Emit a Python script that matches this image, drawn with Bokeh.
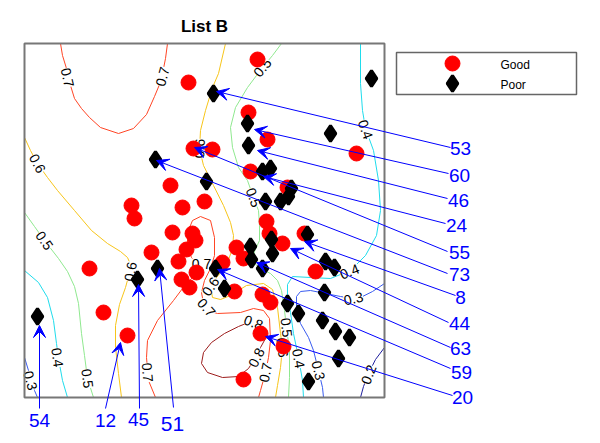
import math
from bokeh.plotting import figure
from bokeh.models import Range1d, ColumnDataSource, Arrow, VeeHead
from bokeh.embed import file_html
from bokeh.resources import INLINE
from bokeh.core.properties import value

FONT = "Liberation Sans"

# ---------------- data (plot coordinates, x to the right, y downward) ----------------
categories = ["Good", "Poor"]

good_x = [257, 188, 248, 267, 193, 212, 356, 250, 287, 204, 170, 131, 134, 182, 172, 192, 195, 186, 151, 178,
          181, 189, 196, 222, 234, 89, 103, 127, 266, 269, 282, 304, 236, 243, 315, 262, 270, 260, 283, 243]
good_y = [59, 82, 112, 139, 148, 149, 153, 171, 187, 201, 185, 205, 218, 207, 232, 233, 240, 249, 252, 261,
          279, 287, 272, 262, 291, 268, 312, 335, 221, 233, 243, 233, 247, 258, 271, 294, 302, 333, 346, 379]

poor_x = [213, 371, 247, 248, 330, 155, 206, 262, 270, 291, 288, 280, 265, 307, 250, 251, 271, 272, 262, 215,
          224, 157, 137, 37, 325, 334, 324, 287, 298, 322, 335, 349, 338, 308]
poor_y = [93, 78, 123, 145, 133, 159, 181, 171, 168, 188, 196, 201, 201, 234, 246, 259, 239, 253, 268, 268,
          288, 268, 279, 316, 261, 267, 292, 303, 313, 320, 331, 337, 358, 381]

# labelled observations: id, the point it refers to
callout_ids = ["53", "60", "46", "24", "55", "73", "8", "44", "63", "59", "20", "54", "12", "45", "51"]
target_x = [216, 254, 257, 263, 194, 156, 304, 290, 256, 217, 265, 39, 120, 138, 159]
target_y = [91, 129, 150, 176, 147, 160, 241, 248, 262, 269, 336, 325, 342, 284, 268]

# contour lines of the smoothed probability surface
contour_07_top = [(60, 43), (62, 55), (66, 68), (70, 85), (74, 98), (81, 108), (89, 117), (100, 127), (118, 133),
                  (133, 128), (146, 114), (154, 96), (159, 84), (162, 73), (165, 58), (167, 43)]
contour_06_left = [(24, 137), (30, 150), (37, 163), (47, 177), (57, 190), (74, 210), (91, 230), (107, 243),
                   (120, 251), (127, 257), (130, 264), (128, 276), (125, 287), (119, 304), (115, 325), (115, 347),
                   (118, 373), (121, 397)]
contour_05_left = [(24, 212), (34, 226), (44, 240), (58, 258), (67, 271), (74, 286), (78, 303), (81, 333),
                   (84, 355), (87, 378), (93, 397)]
contour_04_left = [(24, 270), (38, 282), (47, 297), (53, 320), (56, 343), (58, 358), (62, 380), (67, 397)]
contour_03_left = [(24, 357), (28, 370), (31, 381), (34, 390), (37, 397)]
contour_07_mid = [(155, 397), (148, 380), (146, 357), (147, 340), (157, 320), (173, 300), (182, 288), (192, 277),
                  (199, 266), (191, 257), (187, 247), (187, 232), (192, 220), (200, 216), (210, 220), (214, 237),
                  (214, 255), (210, 268), (204, 280), (201, 292), (203, 303), (210, 311), (217, 313), (240, 312),
                  (253, 308), (263, 310), (269, 318), (270, 340), (268, 357), (265, 372), (260, 390), (258, 397)]
contour_08_mid = [(265, 338), (263, 330), (256, 323), (248, 322), (238, 326), (224, 333), (211, 342), (203, 352),
                  (201, 363), (207, 372), (222, 377), (238, 376), (248, 368), (255, 357), (260, 347), (265, 338)]
contour_06_mid = [(225, 43), (218, 73), (212, 87), (205, 110), (200, 130), (199, 148), (203, 165), (213, 185),
                  (223, 205), (230, 222), (233, 235), (232, 248), (226, 265), (216, 277), (210, 286), (212, 297),
                  (220, 299), (230, 295), (246, 285), (263, 283), (272, 289), (277, 307), (280, 333), (282, 347),
                  (280, 367), (277, 385), (275, 397)]
contour_05_mid = [(281, 43), (272, 55), (262, 67), (247, 87), (235, 107), (230, 127), (232, 147), (238, 167),
                  (247, 180), (253, 197), (258, 210), (259, 225), (259, 240), (254, 251), (252, 260), (258, 267),
                  (270, 273), (277, 280), (281, 290), (284, 310), (286, 327), (289, 350), (289, 377), (288, 397)]
contour_04_right = [(360, 43), (360, 83), (362, 110), (365, 128), (373, 150), (378, 180), (380, 210), (376, 235),
                    (365, 255), (350, 270), (330, 278), (310, 277), (292, 276), (287, 284), (287, 295), (290, 312),
                    (293, 333), (298, 357), (302, 380), (303, 397)]
contour_03_right = [(384, 283), (372, 291), (362, 296), (353, 298), (340, 296), (325, 293), (310, 290), (300, 291),
                    (296, 296), (296, 310), (300, 323), (308, 337), (313, 350), (318, 370), (322, 387), (323, 397)]
contour_02_right = [(384, 347), (375, 359), (368, 373), (363, 386), (360, 397)]

contours = [
    (0.7, contour_07_top), (0.6, contour_06_left), (0.5, contour_05_left), (0.4, contour_04_left),
    (0.3, contour_03_left), (0.7, contour_07_mid), (0.8, contour_08_mid), (0.6, contour_06_mid),
    (0.5, contour_05_mid), (0.4, contour_04_right), (0.3, contour_03_right), (0.2, contour_02_right),
]

contour_label_level = [0.7, 0.7, 0.6, 0.6, 0.5, 0.5, 0.4, 0.3, 0.7, 0.6, 0.5, 0.5, 0.4,
                       0.7, 0.6, 0.7, 0.4, 0.3, 0.8, 0.8, 0.5, 0.6, 0.4, 0.3, 0.7, 0.2]
contour_label_x = [67, 162, 37, 130, 44, 87, 57, 30, 147, 199, 262, 253, 365,
                   201, 210, 206, 349, 353, 253, 256, 286, 282, 298, 318, 265, 368]
contour_label_y = [77, 76, 163, 271, 240, 378, 357, 380, 372, 148, 67, 197, 129,
                   263, 286, 307, 271, 298, 322, 357, 327, 347, 358, 370, 372, 374]
angle_override = {13: 0.0, 18: -20.0}   # label index -> degrees

# ---------------- styles ----------------
level_colors = {0.2: "#1f1f9e", 0.3: "#3a5cf0", 0.4: "#1fdcec", 0.5: "#8fe88f",
                0.6: "#f7c51a", 0.7: "#ff4525", 0.8: "#9c1c1c"}
BOX = dict(left=24, right=384, top=43, bottom=397)

# label layout (text centres) and where each leader line leaves its label
callout_text_x = [460, 459, 458, 456, 459, 459, 460, 459, 460, 461, 462, 39, 105, 138, 172]
callout_text_y = [148, 175, 200, 225, 252, 274, 297, 323, 348, 372, 397, 420, 420, 419, 423]
callout_from_x = [450, 448, 447, 445, 447, 447, 455, 448, 450, 450, 452, 39, 105, 139, 173]
callout_from_y = [147, 173, 198, 223, 251, 273, 295, 322, 347, 368, 395, 408, 408, 408, 407]
callout_size = ["19px"] * 14 + ["21px"]


def label_angle(i):
    if i in angle_override:
        return math.radians(angle_override[i])
    lx, ly, lv = contour_label_x[i], contour_label_y[i], contour_label_level[i]
    best = None
    for lvl, pts in contours:
        if lvl != lv:
            continue
        for (x1, y1), (x2, y2) in zip(pts[:-1], pts[1:]):
            dx, dy = x2 - x1, y2 - y1
            L2 = dx * dx + dy * dy
            t = max(0.0, min(1.0, ((lx - x1) * dx + (ly - y1) * dy) / L2)) if L2 else 0.0
            d = math.hypot(lx - (x1 + t * dx), ly - (y1 + t * dy))
            if best is None or d < best[0]:
                best = (d, dx, dy)
    _, dx, dy = best
    a = math.atan2(-dy, dx)
    if a > math.pi / 2:
        a -= math.pi
    elif a <= -math.pi / 2:
        a += math.pi
    return a


p = figure(width=592, height=435, x_range=Range1d(0, 592), y_range=Range1d(435, 0),
           output_backend="svg", toolbar_location=None, x_axis_location=None, y_axis_location=None,
           min_border=0)
p.grid.visible = False
p.outline_line_color = None
p.background_fill_color = "white"
p.border_fill_color = "white"

# contours
p.multi_line(xs=[[pt[0] for pt in c] for _, c in contours],
             ys=[[pt[1] for pt in c] for _, c in contours],
             line_color=[level_colors[l] for l, _ in contours], line_width=1)

p.text(x=contour_label_x, y=contour_label_y,
       text=[f"{v:.1f}" for v in contour_label_level],
       angle=[label_angle(i) for i in range(len(contour_label_x))], angle_units="rad",
       text_font=value(FONT), text_font_size="14px", text_color="black",
       text_align="center", text_baseline="middle",
       background_fill_color="white")

# plot box
p.quad(left=[BOX["left"]], right=[BOX["right"]], top=[BOX["top"]], bottom=[BOX["bottom"]],
       fill_color=None, line_color="#777777", line_width=2)

# points
p.scatter(good_x, good_y, marker="circle", size=15, fill_color="#ff0000", line_color="#ff0000")
p.scatter(poor_x, poor_y, marker="diamond", size=16, fill_color="black", line_color="black", line_width=3)

# leader arrows
arrow_src = ColumnDataSource(dict(x0=callout_from_x, y0=callout_from_y, x1=target_x, y1=target_y))
p.add_layout(Arrow(end=VeeHead(size=12, fill_color="#0000ff", line_color="#0000ff", line_width=1),
                   x_start="x0", y_start="y0", x_end="x1", y_end="y1", source=arrow_src,
                   line_color="#0000ff", line_width=1))

p.text(x=callout_text_x, y=callout_text_y, text=callout_ids, text_font=value(FONT),
       text_font_size=callout_size, text_color="#0000ff", text_align="center", text_baseline="middle")

# title
p.text(x=[(BOX["left"] + BOX["right"]) / 2], y=[26], text=["List B"], text_font=value(FONT),
       text_font_size="17px", text_font_style="bold", text_color="black",
       text_align="center", text_baseline="middle")

# legend
p.quad(left=[396], right=[576], top=[52], bottom=[94], fill_color="white", line_color="#666666", line_width=1.5)
p.scatter([452], [63], marker="circle", size=15, fill_color="#ff0000", line_color="#ff0000")
p.scatter([452], [83], marker="diamond", size=16, fill_color="black", line_color="black", line_width=3)
p.text(x=[500, 500], y=[64, 84], text=categories, text_font=value(FONT), text_font_size="12px",
       text_color="black", text_align="left", text_baseline="middle")

open("out.html", "w").write(file_html(p, INLINE))
